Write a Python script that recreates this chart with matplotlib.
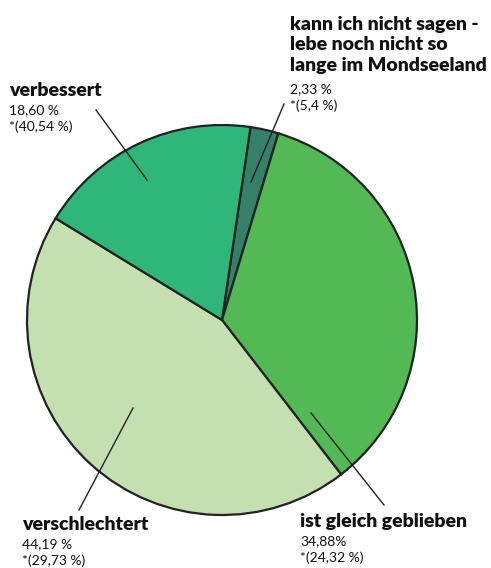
import matplotlib.pyplot as plt
import numpy as np

# survey answers (share in %) and the values in brackets
labels = ["kann ich nicht sagen -\nlebe noch nicht so\nlange im Mondseeland",
          "ist gleich geblieben", "verschlechtert", "verbessert"]
values = [2.33, 34.88, 44.19, 18.60]
value_text = ["2,33 %", "34,88%", "44,19 %", "18,60 %"]
star_text = ["*(5,4 %)", "*(24,32 %)", "*(29,73 %)", "*(40,54 %)"]
colors = ["#358068", "#52b954", "#c5e0b0", "#2fb77a"]

W, H = 491, 568
fig = plt.figure(figsize=(W / 100, H / 100), dpi=100)
ax = fig.add_axes([0, 0, 1, 1])

cx, cy, r = 222, H - 320, 195
ax.pie(values, colors=colors, startangle=81.6, counterclock=False,
       center=(cx, cy), radius=r,
       wedgeprops=dict(edgecolor="#222222", linewidth=1.6))
ax.set_xlim(0, W)
ax.set_ylim(0, H)
ax.set_aspect("equal")
ax.axis("off")

# label blocks: (x of text, y of first title line), pointer line (inside point -> outside point)
layout = [
    ((290, 21), ((251, 182), (284, 104))),
    ((300, 521), ((311, 413), (384, 505))),
    ((22, 524), ((133, 408), (79, 510))),
    ((9, 90), ((147, 180), (96, 110))),
]

fam = ["Lato", "DejaVu Sans"]
step = 24
for i, lab in enumerate(labels):
    (tx, ty), (p0, p1) = layout[i]
    ax.plot([p0[0], p1[0]], [H - p0[1], H - p1[1]], color="#222222", lw=1.0)
    nlines = lab.count("\n")
    ax.text(tx, H - (ty + nlines * step / 2), lab, fontsize=14, fontweight="heavy",
            family=fam, va="center", ha="left", color="#111111", linespacing=1.23)
    y2 = ty + nlines * step + 20
    ax.text(tx, H - y2, value_text[i], fontsize=10, family=fam,
            va="center", ha="left", color="#111111")
    ax.text(tx, H - (y2 + 17), star_text[i], fontsize=10, family=fam,
            va="center", ha="left", color="#111111")

fig.savefig("out.png", dpi=100)
